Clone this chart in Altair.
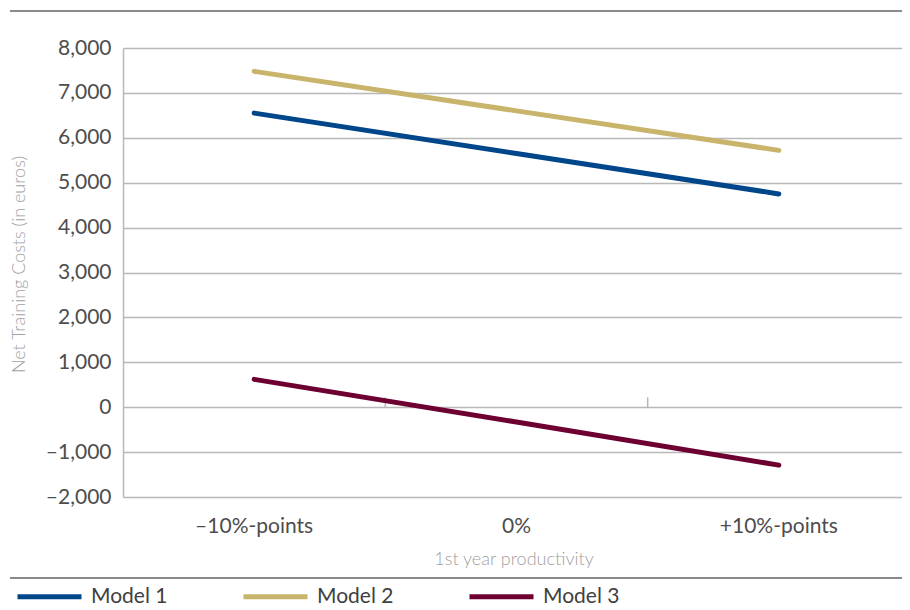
import altair as alt
import pandas as pd

categories = ["–10%-points", "0%", "+10%-points"]
models = ["Model 1", "Model 2", "Model 3"]
model1 = [6550, 5650, 4750]
model2 = [7480, 6600, 5720]
model3 = [620, -330, -1290]
colors = ["#00468b", "#c9b46c", "#6d0030"]
y_ticks = list(range(-2000, 8001, 1000))
boundary_cats = ["0%", "+10%-points"]

rows = []
for m, vals in zip(models, [model1, model2, model3]):
    for c, v in zip(categories, vals):
        rows.append({"cat": c, "model": m, "value": v})
df = pd.DataFrame(rows)
bdf = pd.DataFrame({"cat": boundary_cats, "y0": [0, 0], "y1": [220, 220]})

W, H = 779, 449
BAND_SPAN = 787
FONT = "Lato"
GRID = "#b8b8b8"
LABEL = "#4d4d4d"
TITLE = "#a0a0a0"

xscale = alt.Scale(type="band", domain=categories, paddingInner=0, paddingOuter=0, range=[0, BAND_SPAN])
yscale = alt.Scale(domain=[-2000, 8000], nice=False, zero=False)

x_axis = alt.Axis(
    title="1st year productivity",
    orient="bottom",
    domain=False,
    ticks=False,
    grid=False,
    labelAngle=0,
    labelFont=FONT,
    labelFontSize=21,
    labelColor=LABEL,
    labelPadding=18,
    titleFont=FONT,
    titleFontSize=18,
    titleFontWeight=300,
    titleColor=TITLE,
    titleX=BAND_SPAN / 2 - 3,
    titleY=62,
    titleAlign="center",
    titleBaseline="middle",
)
y_axis = alt.Axis(
    values=y_ticks,
    labelExpr="datum.value < 0 ? '–' + format(-datum.value, ',') : format(datum.value, ',')",
    title="Net Training Costs (in euros)",
    domain=True,
    domainColor=GRID,
    domainWidth=1.5,
    ticks=False,
    grid=True,
    gridColor=GRID,
    gridWidth=1.5,
    labelFont=FONT,
    labelFontSize=21,
    labelColor=LABEL,
    labelPadding=12,
    titleFont=FONT,
    titleFontSize=18,
    titleFontWeight=300,
    titleColor=TITLE,
    titleX=-104,
    titleY=216,
    titleAngle=-90,
    titleAlign="center",
    titleBaseline="middle",
)

lines = alt.Chart(df).mark_line(strokeWidth=5, strokeCap="round").encode(
    x=alt.X("cat:N", scale=xscale, sort=categories, axis=x_axis),
    y=alt.Y("value:Q", scale=yscale, axis=y_axis),
    color=alt.Color(
        "model:N",
        scale=alt.Scale(domain=models, range=colors),
        legend=alt.Legend(
            title=None,
            orient="none",
            legendX=-108,
            legendY=514,
            direction="horizontal",
            symbolType="stroke",
            symbolSize=4096,
            symbolStrokeWidth=5,
            labelFont=FONT,
            labelFontSize=21,
            labelColor="#404040",
            labelOffset=7,
            columnPadding=65,
            padding=0,
        ),
    ),
)

# small category-boundary ticks rising from the zero line
ticks = alt.Chart(bdf).mark_rule(color=GRID, strokeWidth=1.5).encode(
    x=alt.X("cat:N", scale=xscale, sort=categories, bandPosition=0, axis=x_axis),
    y=alt.Y("y0:Q", scale=yscale, axis=y_axis),
    y2="y1:Q",
)

frame = pd.DataFrame({"k": [0]})
top_rule = alt.Chart(frame).mark_rule(color="#8a8a8a", strokeWidth=2).encode(
    x=alt.value(-113), x2=alt.value(W), y=alt.value(-37)
)
bottom_rule = alt.Chart(frame).mark_rule(color="#8a8a8a", strokeWidth=2).encode(
    x=alt.value(-113), x2=alt.value(W), y=alt.value(530)
)

chart = (
    alt.layer(ticks, lines, top_rule, bottom_rule)
    .properties(
        width=W,
        height=H,
        autosize=alt.AutoSizeParams(type="none"),
        padding={"left": 115, "top": 40, "right": 0, "bottom": 110},
    )
    .configure_view(stroke=None)
)

chart.save("out.html", embed_options={"renderer": "svg", "actions": False})
